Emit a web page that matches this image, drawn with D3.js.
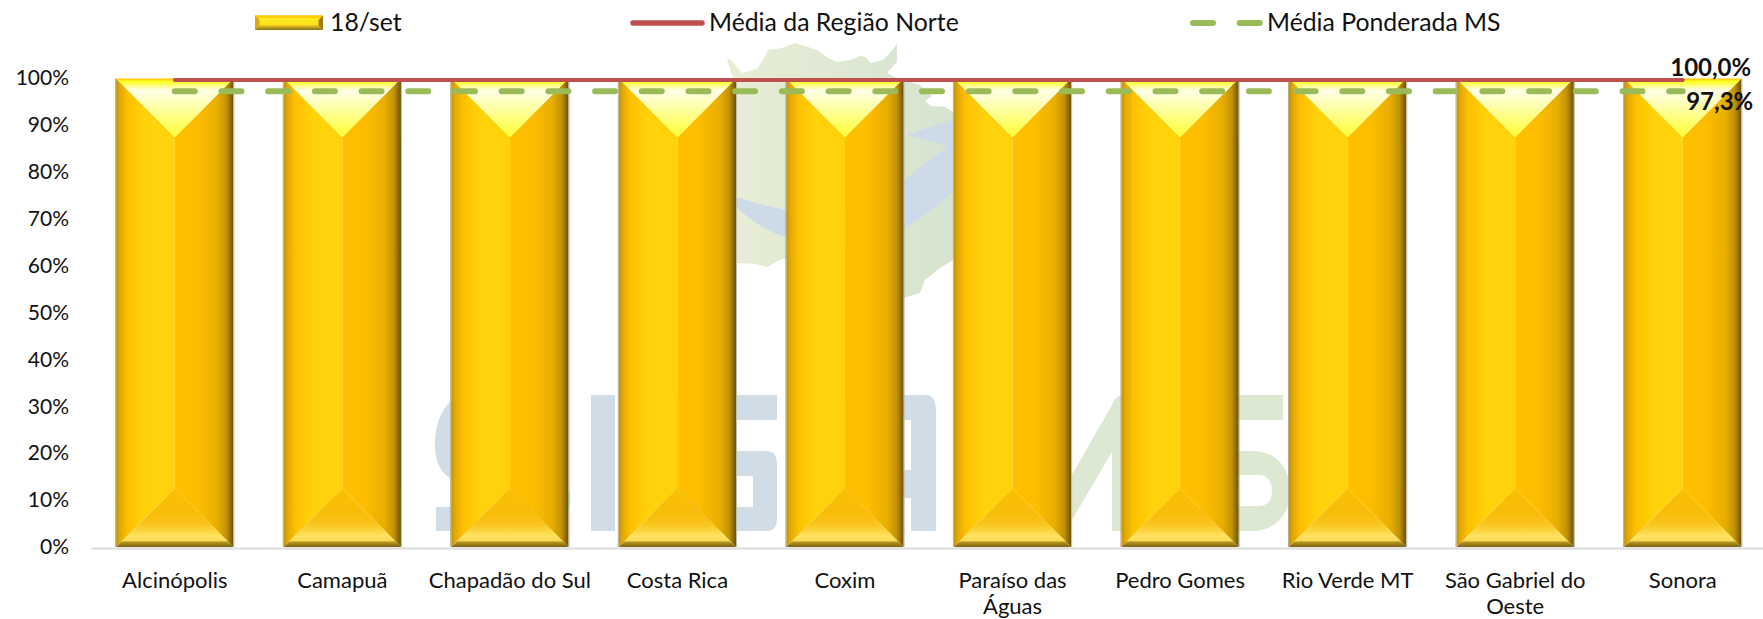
<!DOCTYPE html>
<html><head><meta charset="utf-8">
<script src="https://cdn.jsdelivr.net/npm/d3@7/dist/d3.min.js"></script>
<style>html,body{margin:0;padding:0;background:#fff;overflow:hidden}
svg{display:block}
text{font-family:Lato,"Open Sans",sans-serif;fill:#111}</style></head>
<body><svg id="c" width="1763" height="619"></svg>
<script>
const categories=["Alcinópolis","Camapuã","Chapadão do Sul","Costa Rica","Coxim","Paraíso das|Águas","Pedro Gomes","Rio Verde MT","São Gabriel do|Oeste","Sonora"];
const bars18set=[100,100,100,100,100,100,100,100,100,100];
const mediaRegiaoNorte=[100,100,100,100,100,100,100,100,100,100];
const mediaPonderadaMS=[97.3,97.3,97.3,97.3,97.3,97.3,97.3,97.3,97.3,97.3];
const yTicks=[0,10,20,30,40,50,60,70,80,90,100];
const legendLabels=["18/set","Média da Região Norte","Média Ponderada MS"];
const dataLabels=["100,0%","97,3%"];

const svg=d3.select("#c");
const x=d3.scaleBand().domain(categories).range([91,1766.5]).paddingInner(0.3).paddingOuter(0.15);
const y=d3.scaleLinear().domain([0,100]).range([547.5,78.5]);
const defs=svg.append("defs");
function grad(id,stops,vertical,attrs){
  const g=defs.append("linearGradient").attr("id",id)
    .attr("x1",0).attr("y1",0).attr("x2",vertical?0:1).attr("y2",vertical?1:0);
  stops.forEach(s=>g.append("stop").attr("offset",s[0]).attr("stop-color",s[1]));
}
grad("gL",[[0,"#c09208"],[0.06,"#dfa806"],[0.2,"#ffc000"],[0.5,"#ffd20c"],[1,"#ffd20c"]],false);
grad("gR",[[0,"#ffc000"],[0.4,"#fdbd00"],[0.72,"#e8ae00"],[0.88,"#c39306"],[1,"#6d5206"]],false);
grad("gT",[[0,"#ffc000"],[0.05,"#ffff20"],[0.2,"#ffffe8"],[0.32,"#ffffd0"],[0.7,"#ffff78"],[1,"#ffff30"]],true);
grad("gB",[[0,"#fac000"],[0.45,"#f8bc0c"],[0.62,"#fac61e"],[0.82,"#ffe362"],[0.89,"#fbd954"],[0.92,"#b39420"],[1,"#7d6212"]],true);
grad("gMap",[[0,"#ebefd8"],[1,"#d3e2cf"]],false);
grad("lT",[[0,"#ffc000"],[0.6,"#ffdc10"],[1,"#ffff40"]],true);
grad("lB",[[0,"#e8c030"],[0.5,"#b89a20"],[1,"#8a7014"]],true);
grad("lM",[[0,"#ffd800"],[0.45,"#ffe820"],[1,"#f8c800"]],true);

// watermark (decorative background of the reference)
const wm=svg.append("g");
wm.append("path").attr("fill","url(#gMap)").attr("d",
 "M727,60 L730,59 L742,73 L757,69 L763,60 L768,50 L782,48 L795,43 L808,47 L817,50 L828,58 L837,62 L850,60 L860,56 L866,57 L870,63 L883,60 L890,53 L897,44 L897,62 L887,73 L897,78 L903,80 L920,85 L928,93 L932,96 L925,101 L931,106 L945,107 L953,112 L985,170 L985,235 L953,260 L940,268 L925,280 L920,293 L904,298 L860,310 L800,262 L787,258 L780,260 L767,267 L755,264 L737,263 L690,200 L733,78 Z");
wm.append("path").attr("fill","#cddbe8").attr("d",
 "M690,178 L737,197 C755,203 770,207 787,210 C830,218 870,205 904,180 L948,146 L907,135 L953,119 L980,110 C985,140 975,170 953,192 C935,208 920,219 904,229 C870,248 820,250 787,238 C765,230 750,220 737,208 Z");
const blue="#d0dce6", green="#dde8d3";
wm.append("path").attr("fill",blue).attr("d",
 "M470,395 C445,395 435,420 435,445 C435,470 448,482 470,485 L545,490 L570,492 C572,510 565,531 540,531 L436,531 L436,507 L500,507 L500,420 Z");
wm.append("rect").attr("fill",blue).attr("x",591).attr("y",395).attr("width",24).attr("height",136);
wm.append("path").attr("fill",blue).attr("d",
 "M660,395 L777,395 L777,420 L680,420 L680,451 L767,451 Q777,451 777,465 L777,518 Q777,531 767,531 L660,531 L640,480 Z M753,476 L700,476 L700,507 L753,507 Z").attr("fill-rule","evenodd");
wm.append("path").attr("fill",blue).attr("d",
 "M845,395 L926,395 Q936,395 936,412 L936,531 L911,531 L911,498 L860,498 L860,531 L835,531 L835,410 Z M911,420 L880,420 L880,470 L911,470 Z").attr("fill-rule","evenodd");
wm.append("path").attr("fill",green).attr("d",
 "M1113,403 Q1116,395 1124,395 L1130,395 L1130,531 L1112,531 L1112,452 L1060,540 L1040,531 Z");
wm.append("path").attr("fill",green).attr("d",
 "M1200,395 L1283,395 L1283,420 L1220,420 L1220,451 L1252,451 C1278,451 1290,470 1290,491 C1290,515 1275,531 1252,531 L1200,531 L1200,506 L1258,506 C1268,506 1272,500 1272,491 C1272,482 1268,475 1258,475 L1200,475 Z");

// bars, built as four bevelled panels
const bh=x.bandwidth(), pts=a=>a.map(p=>p.join(",")).join(" ");
const bar=svg.append("g").selectAll("g").data(categories).join("g");
function panel(fill,fn){
  bar.append("polygon").attr("fill",fill).attr("points",(c,i)=>{
    const l=x(c),r=l+bh,m=l+bh/2,t=y(bars18set[i]),b=y(0)-0.5;
    return pts(fn(l,r,m,t,b,bh/2));
  });
}
panel("url(#gL)",(l,r,m,t,b,h)=>[[l,t],[m,t+h],[m,b-h],[l,b]]);
panel("url(#gR)",(l,r,m,t,b,h)=>[[r,t],[m,t+h],[m,b-h],[r,b]]);
panel("url(#gT)",(l,r,m,t,b,h)=>[[l,t],[r,t],[m,t+h]]);
panel("url(#gB)",(l,r,m,t,b,h)=>[[l,b],[r,b],[m,b-h]]);
bar.append("line").attr("x1",c=>x(c)-0.5).attr("x2",c=>x(c)-0.5).attr("y1",y(100)).attr("y2",y(0)-0.5).attr("stroke","#b8ad85").attr("stroke-width",1);
bar.append("line").attr("x1",c=>x(c)+bh+0.5).attr("x2",c=>x(c)+bh+0.5).attr("y1",y(100)).attr("y2",y(0)-0.5).attr("stroke","#bdbab0").attr("stroke-width",1);

// axes
const xa=svg.append("g").attr("transform",`translate(0,${y(0)+0.5})`)
  .call(d3.axisBottom(x).tickSize(0).tickFormat(""));
xa.select(".domain").attr("stroke","#dcdcdc").attr("stroke-width",2);
xa.selectAll(".tick text").remove();
xa.selectAll(".tick").append("text").attr("text-anchor","middle").attr("font-size",22)
  .each(function(c){
    c.split("|").forEach((s,i)=>d3.select(this).append("tspan").attr("x",0).attr("y",32+i*26).attr("dy","0.35em").text(s));
  });
const ya=svg.append("g").attr("transform","translate(92,-0.5)")
  .call(d3.axisLeft(y).tickValues(yTicks).tickSize(0).tickPadding(23).tickFormat(d=>d+"%"));
ya.select(".domain").remove();
ya.selectAll("text").attr("font-size",21).style("font-family","Lato,sans-serif").attr("fill","#111");

// lines
const line=d3.line().x((d,i)=>x(categories[i])+bh/2).y(d=>y(d));
svg.append("path").datum(mediaRegiaoNorte).attr("d",line).attr("fill","none").attr("stroke","#c0504d")
  .attr("stroke-width",4).attr("stroke-linecap","round").attr("transform","translate(0,1.6)");
svg.append("path").datum(mediaPonderadaMS).attr("d",line).attr("fill","none").attr("stroke","#9bbb59")
  .attr("stroke-width",6).attr("stroke-linecap","round").attr("stroke-dasharray","20 26.7");

// data labels
const last=categories.length-1, lx=x(categories[last])+bh/2;
svg.append("text").attr("x",lx+28).attr("y",y(mediaRegiaoNorte[last])-11).attr("dy","0.35em").attr("text-anchor","middle")
  .attr("font-size",24).attr("font-weight",700).attr("fill","#000").text(dataLabels[0]);
svg.append("text").attr("x",lx+37).attr("y",y(mediaPonderadaMS[last])+10).attr("dy","0.35em").attr("text-anchor","middle")
  .attr("font-size",24).attr("font-weight",700).attr("fill","#000").text(dataLabels[1]);

// legend
const lg=svg.append("g");
const sx=255,sw=68,sy=15.5,sh=14.5,bv=4.5;
lg.append("rect").attr("x",sx).attr("y",sy).attr("width",sw).attr("height",sh).attr("fill","url(#lM)");
lg.append("polygon").attr("fill","url(#lT)").attr("points",pts([[sx,sy],[sx+sw,sy],[sx+sw-bv,sy+bv],[sx+bv,sy+bv]]));
lg.append("polygon").attr("fill","url(#lB)").attr("points",pts([[sx,sy+sh],[sx+sw,sy+sh],[sx+sw-bv,sy+sh-bv],[sx+bv,sy+sh-bv]]));
lg.append("polygon").attr("fill","#e0a808").attr("points",pts([[sx,sy],[sx+bv,sy+bv],[sx+bv,sy+sh-bv],[sx,sy+sh]]));
lg.append("polygon").attr("fill","#a07c10").attr("points",pts([[sx+sw,sy],[sx+sw-bv,sy+bv],[sx+sw-bv,sy+sh-bv],[sx+sw,sy+sh]]));
lg.append("line").attr("x1",633).attr("x2",702).attr("y1",23).attr("y2",23).attr("stroke","#c0504d").attr("stroke-width",5.5).attr("stroke-linecap","round");
lg.append("line").attr("x1",1193).attr("x2",1261).attr("y1",23).attr("y2",23).attr("stroke","#9bbb59").attr("stroke-width",6).attr("stroke-linecap","round").attr("stroke-dasharray","20 26.7");
[[330,legendLabels[0]],[709,legendLabels[1]],[1267,legendLabels[2]]].forEach(d=>
  lg.append("text").attr("x",d[0]).attr("y",22).attr("dy","0.35em").attr("font-size",24.8).text(d[1]));
</script></body></html>
